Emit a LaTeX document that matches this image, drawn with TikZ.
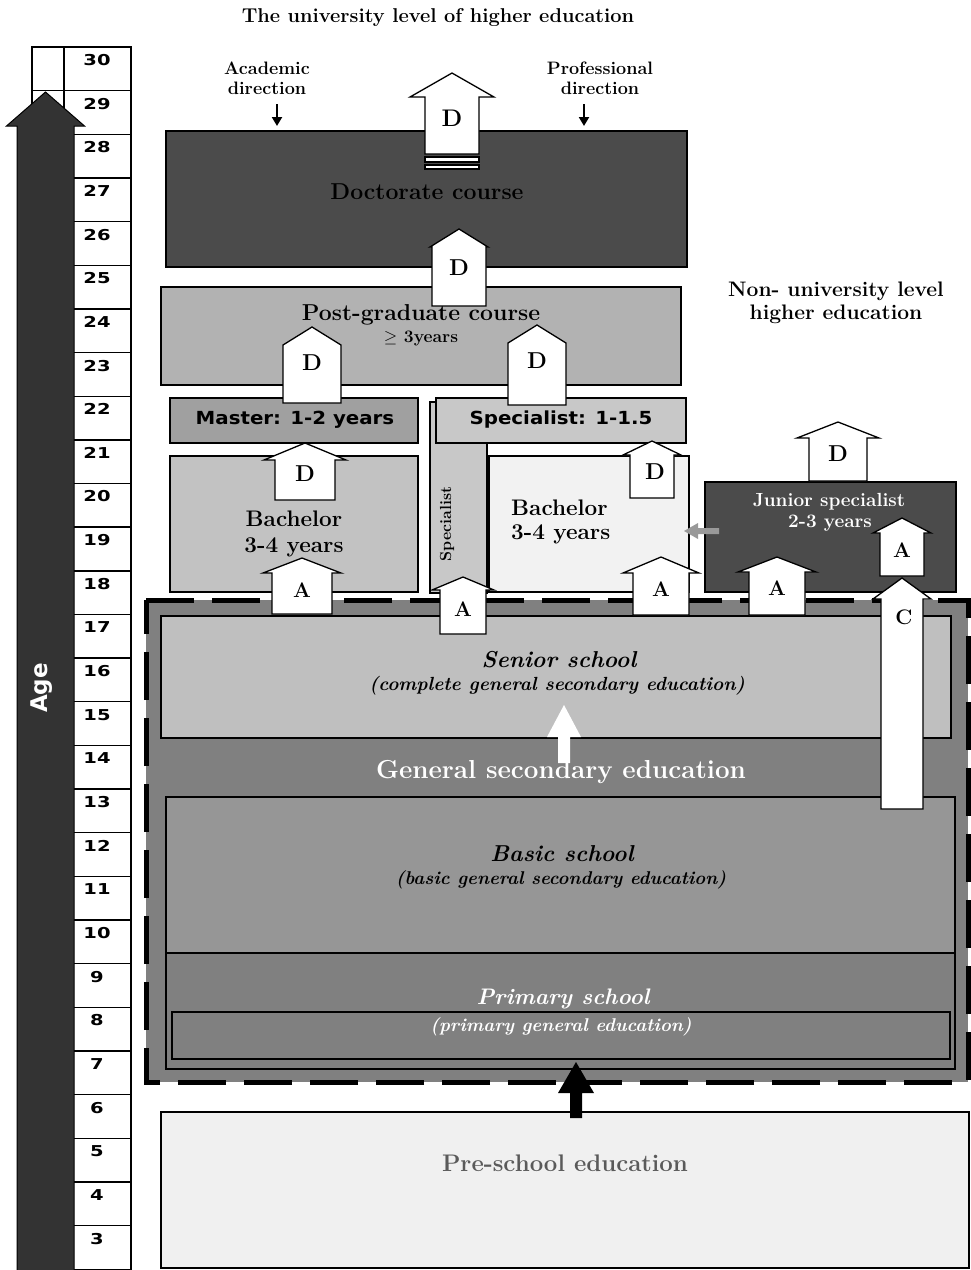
\documentclass[tikz,border=0pt]{standalone}
\usepackage{fontspec}
\usetikzlibrary{arrows.meta}
\newfontfamily\sansfam{DejaVu Sans}[FakeStretch=1.1]
\newfontfamily\numfam{DejaVu Sans}[FakeStretch=1.3]
\newfontfamily\agefam{DejaVu Sans}
\newcommand\fsz[1]{\fontsize{#1}{#1}\selectfont}
% block arrow: cx, tip y, head-base y, head half width, shaft half width, bottom y, style
\newcommand\barrow[7]{%
  \path[#7] (#1,#2) -- ({#1+#4},#3) -- ({#1+#5},#3) -- ({#1+#5},#6) -- ({#1-#5},#6) -- ({#1-#5},#3) -- ({#1-#4},#3) -- cycle;}
\definecolor{cdoct}{HTML}{4B4B4B}
\definecolor{cpg}{HTML}{B2B2B2}
\definecolor{cmaster}{HTML}{A0A0A0}
\definecolor{cspec}{HTML}{C8C8C8}
\definecolor{cbachl}{HTML}{C2C2C2}
\definecolor{cbachr}{HTML}{F2F2F2}
\definecolor{couter}{HTML}{808080}
\definecolor{csenior}{HTML}{BFBFBF}
\definecolor{cbasic}{HTML}{969696}
\definecolor{cpre}{HTML}{F0F0F0}
\definecolor{cpretext}{HTML}{5A5A5A}
\definecolor{cage}{HTML}{333333}
\definecolor{cgrayarrow}{HTML}{999999}
\begin{document}
\begin{tikzpicture}[x=1pt,y=-1pt,
  box/.style={draw=black, line width=1.3pt},
  warrow/.style={fill=white, draw=black, line width=1.3pt, line join=miter},
  lett/.style={font=\bfseries\fsz{23}, inner sep=0pt},
  letta/.style={font=\bfseries\fsz{21}, inner sep=0pt},
  bigl/.style={font=\bfseries\fsz{23}, inner sep=0pt},
  midl/.style={font=\bfseries\fsz{22.5}, inner sep=0pt},
  smalll/.style={font=\bfseries\fsz{18}, inner sep=0pt},
  sansl/.style={font=\sansfam\bfseries\fsz{18}, inner sep=0pt},
  numl/.style={font=\numfam\bfseries\fsz{15}, inner sep=0pt},
  itl/.style={font=\bfseries\itshape\fsz{23}, inner sep=0pt},
  itsl/.style={font=\bfseries\itshape\fsz{18.5}, inner sep=0pt},
  cell/.style={draw=black, line width=1.4pt, fill=white}
]
\useasboundingbox (0,0) rectangle (971,1270);

% ---------- age column ----------
\foreach \k in {3,...,30}{
  \pgfmathsetmacro\t{47+(30-\k)*43.65}
  \draw[cell] (32,\t) rectangle (64,{\t+43.65});
  \draw[cell] (64,\t) rectangle (131,{\t+43.65});
  \node[numl] (n\k) at (97,{\t+13}) {\k};
}
\draw[line width=2.2pt] (131,47) -- (131,1270);
\barrow{45.5}{92}{126}{39}{28.5}{1275}{fill=cage, draw=black, line width=1pt}
\node[font=\agefam\bfseries\fsz{23}, text=white, rotate=90, inner sep=0pt] (age) at (42,688) {Age};

% ---------- title and side headings ----------
\node[font=\bfseries\fsz{20}, inner sep=0pt] (title) at (438,18) {The university level of higher education};
\node[smalll] (acad1) at (267,68) {Academic};
\node[smalll] (acad2) at (267,88) {direction};
\node[smalll] (prof1) at (600,68) {Professional};
\node[smalll] (prof2) at (600,88) {direction};
\coordinate (acadtop) at (277,104);
\coordinate (acadend) at (277,126);
\coordinate (proftop) at (584,104);
\coordinate (profend) at (584,126);
\draw[line width=2pt, -{Triangle[width=10pt,length=9pt]}] (acadtop) -- (acadend);
\draw[line width=2pt, -{Triangle[width=10pt,length=9pt]}] (proftop) -- (profend);
\node[font=\bfseries\fsz{21}, inner sep=0pt] (nonu1) at (836,291) {Non- university level};
\node[font=\bfseries\fsz{21}, inner sep=0pt] (nonu2) at (836,314) {higher education};

% ---------- general secondary (dashed) ----------
\fill[couter] (146,600) rectangle (968,1082);
\draw[box, fill=csenior] (161,616) rectangle (951,738);
\draw[box, fill=cbasic] (166,797) rectangle (955,953);
\draw[box, fill=couter] (166,953) rectangle (955,1069);
\draw[box, fill=couter] (172,1012) rectangle (950,1059);
\draw[line width=5pt, dash pattern=on 48pt off 18pt] (146,600) -- (968,600) -- (968,1082) -- (146,1082) -- cycle;
\node[itl] (senior) at (559,660) {Senior school};
\node[itsl, font=\bfseries\itshape\fsz{19}] (senior2) at (557,686) {(complete general secondary education)};
\barrow{564}{705}{737}{17}{6}{763}{fill=white}
\node[font=\bfseries\fsz{26}, text=white, inner sep=0pt] (gse) at (561,772) {General secondary education};
\node[itl] (basic) at (562,854) {Basic school};
\node[itsl] (basic2) at (561,880) {(basic general secondary education)};
\node[itl, text=white, font=\bfseries\itshape\fsz{22.5}] (prim) at (563,999) {Primary school};
\node[itsl, text=white] (prim2) at (561,1027) {(primary general education)};

% ---------- pre-school ----------
\draw[box, line width=1.1pt, fill=cpre] (161,1112) rectangle (969,1268);
\node[font=\bfseries\fsz{24}, inner sep=0pt, text=cpretext] (pre) at (565,1163) {Pre-school education};
\barrow{576}{1062}{1093}{18}{6}{1118}{fill=black}

% ---------- university boxes ----------
\draw[box, fill=cdoct] (166,131) rectangle (687,267);
\node[bigl] (doct) at (427,192) {Doctorate course};
\draw[box, fill=cpg] (161,287) rectangle (681,385);
\node[bigl] (pg) at (421,315) {Post-graduate course};
\node[font=\bfseries\fsz{17.5}, inner sep=0pt] (pg2) at (421,339) {$\geq$ 3years};
\draw[box, fill=cmaster] (170,398) rectangle (418,443);
\node[sansl] (master) at (295,420) {Master: 1-2 years};
\draw[box, fill=cspec] (430,402) rectangle (487,593);
\draw[box, fill=cspec] (436,398) rectangle (686,443);
\node[sansl] (spec) at (561,420) {Specialist: 1-1.5};
\node[font=\bfseries\fsz{16}, rotate=90, inner sep=0pt] (specv) at (447,524) {Specialist};
\draw[box, fill=cbachl] (170,456) rectangle (418,592);
\node[midl] (bl1) at (294,519) {Bachelor};
\node[midl] (bl2) at (294,547) {3-4 years};
\draw[box, fill=cbachr] (489,456) rectangle (689,592);
\node[midl, anchor=west] (br1) at (511,508) {Bachelor};
\node[midl, anchor=west] (br2) at (511,534) {3-4 years};
\draw[box, fill=cdoct] (705,482) rectangle (956,592);
\node[font=\bfseries\fsz{19}, text=white, inner sep=0pt] (jun1) at (829,502) {Junior specialist};
\node[font=\bfseries\fsz{19}, text=white, inner sep=0pt] (jun2) at (830,523) {2-3 years};
\fill[cgrayarrow] (684,531) -- (698,523) -- (698,528) -- (719,528) -- (719,534) -- (698,534) -- (698,539) -- cycle;

% ---------- D arrows ----------
\barrow{452}{73}{97}{42}{27}{154}{warrow}
\draw[box, fill=white] (425,157) rectangle (479,162);
\draw[box, fill=white] (425,165) rectangle (479,169);
\node[lett, font=\bfseries\fsz{24}] (d1) at (452,118) {D};
\barrow{459}{229}{247}{29}{27}{306}{warrow}
\node[lett] (d2) at (459,268) {D};
\barrow{312}{327}{345}{29}{29}{403}{warrow}
\node[lett] (d3) at (312,363) {D};
\barrow{537}{325}{343}{29}{29}{405}{warrow}
\node[lett] (d4) at (537,361) {D};
\barrow{305}{443}{460}{41}{30}{500}{warrow}
\node[lett] (d5) at (305,474) {D};
\barrow{652}{441}{455}{29}{22}{498}{warrow}
\node[lett] (d6) at (655,472) {D};
\barrow{838}{422}{438}{41}{29}{481}{warrow}
\node[lett] (d7) at (838,454) {D};

% ---------- A and C arrows ----------
\barrow{302}{558}{573}{39}{30}{614}{warrow}
\node[letta] (a1) at (302,590) {A};
\barrow{463}{577}{590}{31}{23}{634}{warrow}
\node[letta] (a2) at (463,609) {A};
\barrow{661}{557}{573}{38}{28}{615}{warrow}
\node[letta] (a3) at (661,589) {A};
\barrow{777}{557}{572}{39}{28}{615}{warrow}
\node[letta] (a4) at (777,588) {A};
\barrow{902}{518}{533}{29}{22}{576}{warrow}
\node[letta] (a5) at (902,550) {A};
\barrow{902}{578}{599}{29}{21}{809}{warrow}
\node[letta] (c1) at (904,617) {C};
\end{tikzpicture}
\end{document}
